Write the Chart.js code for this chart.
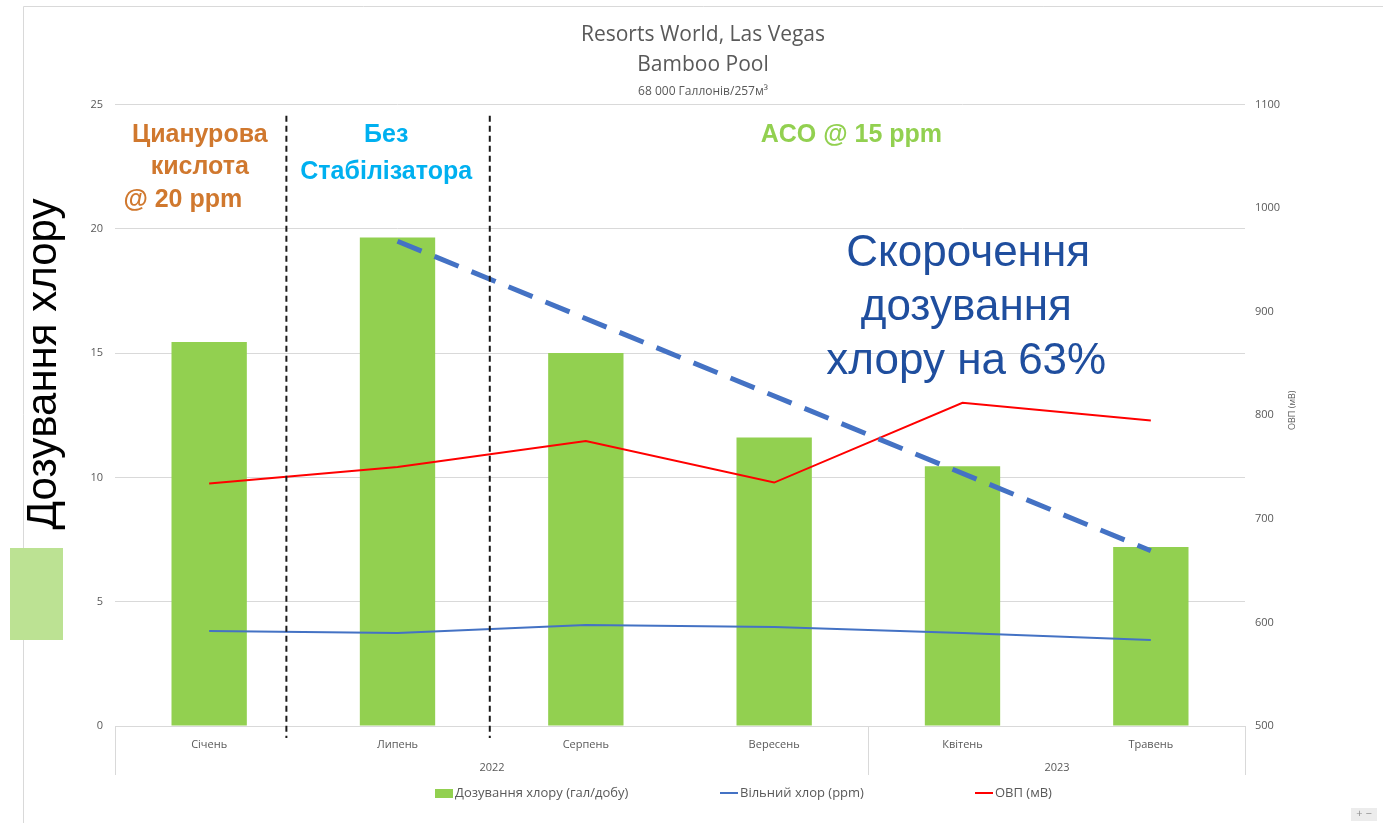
<!DOCTYPE html>
<html>
<head>
<meta charset="utf-8">
<title>Resorts World, Las Vegas - Bamboo Pool</title>
<script src="https://cdn.jsdelivr.net/npm/chart.js@4.4.1/dist/chart.umd.min.js"></script>
<style>
  html, body { margin: 0; padding: 0; background: #fff; }
  #grafik { display: block; }
</style>
</head>
<body>
<canvas id="grafik" width="1383" height="823"></canvas>
<script>
// дані
const misyatsi = ['Січень', 'Липень', 'Серпень', 'Вересень', 'Квітень', 'Травень'];
const roky = ['2022', '2023'];
const rokyMezhi = [[0, 3], [4, 5]]; // перший і останній індекс місяця для кожного року
const dozuvannya = [15.45, 19.65, 15.0, 11.6, 10.45, 7.2];
const vilnyiKhlor = [3.82, 3.74, 4.06, 3.98, 3.74, 3.46];
const ovp = [734, 750, 775, 735, 812, 795];
const trend = [null, 19.5, null, null, null, 7.05];

const SHRYFT = "'Open Sans', 'Noto Sans', sans-serif";
const ARIAL = "'Liberation Sans', Arial, sans-serif";
const SIRYI = '#595959';

// підписи на полі графіка: x в індексах категорій, y в одиницях лівої осі
const pidpysy = [
  { tekst: 'Цианурова', x: -0.05, y: 23.75, kolir: '#D0782E', font: 'bold 25px ' + ARIAL },
  { tekst: 'кислота', x: -0.05, y: 22.5, kolir: '#D0782E', font: 'bold 25px ' + ARIAL },
  { tekst: '@ 20 ppm', x: -0.14, y: 21.15, kolir: '#D0782E', font: 'bold 25px ' + ARIAL },
  { tekst: 'Без', x: 0.94, y: 23.75, kolir: '#00B0F0', font: 'bold 25px ' + ARIAL },
  { tekst: 'Стабілізатора', x: 0.94, y: 22.27, kolir: '#00B0F0', font: 'bold 25px ' + ARIAL },
  { tekst: 'ACO @ 15 ppm', x: 3.41, y: 23.75, kolir: '#92D050', font: 'bold 25px ' + ARIAL },
  { tekst: 'Скорочення', x: 4.03, y: 19.0, kolir: '#1F4E9E', font: '44px ' + ARIAL },
  { tekst: 'дозування', x: 4.02, y: 16.8, kolir: '#1F4E9E', font: '44px ' + ARIAL },
  { tekst: 'хлору на 63%', x: 4.02, y: 14.63, kolir: '#1F4E9E', font: '44px ' + ARIAL }
];
const rozdilnyky = [0.41, 1.49];

const legenda = [
  { tekst: 'Дозування хлору (гал/добу)', kolir: '#92D050', typ: 'box', x: 435 },
  { tekst: 'Вільний хлор (ppm)', kolir: '#4472C4', typ: 'line', x: 720 },
  { tekst: 'ОВП (мВ)', kolir: '#FF0000', typ: 'line', x: 975 }
];

const dekor = {
  id: 'dekor',
  beforeDraw(chart) {
    const ctx = chart.ctx;
    ctx.save();
    ctx.strokeStyle = '#D9D9D9';
    ctx.lineWidth = 1;
    ctx.beginPath();
    ctx.moveTo(23.5, chart.height);
    ctx.lineTo(23.5, 6.5);
    ctx.lineTo(chart.width, 6.5);
    ctx.stroke();
    ctx.restore();
  },
  afterDraw(chart) {
    const ctx = chart.ctx;
    const xs = chart.scales.x, ys = chart.scales.y;
    const area = chart.chartArea;
    ctx.save();

    // роки під місяцями
    ctx.strokeStyle = '#D9D9D9';
    ctx.lineWidth = 1;
    ctx.fillStyle = SIRYI;
    ctx.font = '11px ' + SHRYFT;
    ctx.textAlign = 'center';
    ctx.textBaseline = 'middle';
    const niz = area.bottom + 49;
    roky.forEach((rik, i) => {
      const x0 = Math.round(xs.getPixelForValue(rokyMezhi[i][0] - 0.5)) + 0.5;
      const x1 = Math.round(xs.getPixelForValue(rokyMezhi[i][1] + 0.5)) + 0.5;
      ctx.beginPath();
      ctx.moveTo(x0, area.bottom); ctx.lineTo(x0, niz);
      ctx.moveTo(x1, area.bottom); ctx.lineTo(x1, niz);
      ctx.stroke();
      ctx.fillText(rik, (x0 + x1) / 2, area.bottom + 42);
    });

    // пунктирні розділювачі періодів
    ctx.strokeStyle = '#1A1A1A';
    ctx.lineWidth = 2;
    ctx.setLineDash([6, 4]);
    rozdilnyky.forEach(v => {
      const x = xs.getPixelForValue(v);
      ctx.beginPath();
      ctx.moveTo(x, ys.getPixelForValue(24.55));
      ctx.lineTo(x, area.bottom + 12);
      ctx.stroke();
    });
    ctx.setLineDash([]);

    // підписи
    pidpysy.forEach(p => {
      ctx.font = p.font;
      ctx.fillStyle = p.kolir;
      ctx.fillText(p.tekst, xs.getPixelForValue(p.x), ys.getPixelForValue(p.y));
    });

    // назви осей
    ctx.save();
    ctx.translate(44, 364);
    ctx.rotate(-Math.PI / 2);
    ctx.font = '42px ' + ARIAL;
    ctx.fillStyle = '#000';
    ctx.fillText('Дозування хлору', 0, 0);
    ctx.restore();

    ctx.fillStyle = '#BCE293';
    ctx.fillRect(10, 548, 53, 92);

    ctx.save();
    ctx.translate(1292, (area.top + area.bottom) / 2 - 5);
    ctx.rotate(-Math.PI / 2);
    ctx.font = '9px ' + SHRYFT;
    ctx.fillStyle = SIRYI;
    ctx.fillText('ОВП (мВ)', 0, 0);
    ctx.restore();

    // легенда
    ctx.font = '13px ' + SHRYFT;
    ctx.textAlign = 'left';
    const ly = 793;
    legenda.forEach(l => {
      if (l.typ === 'box') {
        ctx.fillStyle = l.kolir;
        ctx.fillRect(l.x, ly - 4, 18, 9);
      } else {
        ctx.strokeStyle = l.kolir;
        ctx.lineWidth = 2;
        ctx.beginPath();
        ctx.moveTo(l.x, ly); ctx.lineTo(l.x + 18, ly);
        ctx.stroke();
      }
      ctx.fillStyle = SIRYI;
      ctx.fillText(l.tekst, l.x + 20, ly);
    });

    // кнопки масштабу в куті
    ctx.fillStyle = '#ECECEC';
    ctx.fillRect(1351, 808, 26, 13);
    ctx.fillStyle = '#8C8C8C';
    ctx.font = '11px ' + SHRYFT;
    ctx.textAlign = 'center';
    ctx.fillText('+ −', 1364, 814);

    ctx.restore();
  }
};

new Chart(document.getElementById('grafik'), {
  type: 'bar',
  data: {
    labels: misyatsi,
    datasets: [
      {
        type: 'bar', label: 'Дозування хлору (гал/добу)', data: dozuvannya, yAxisID: 'y',
        backgroundColor: '#92D050', barPercentage: 0.4, categoryPercentage: 1, order: 4
      },
      {
        type: 'line', label: 'Вільний хлор (ppm)', data: vilnyiKhlor, yAxisID: 'y',
        borderColor: '#4472C4', borderWidth: 2, pointRadius: 0, tension: 0, order: 3
      },
      {
        type: 'line', label: 'ОВП (мВ)', data: ovp, yAxisID: 'y1',
        borderColor: '#FF0000', borderWidth: 2, pointRadius: 0, tension: 0, order: 2
      },
      {
        type: 'line', label: 'тренд', data: trend, yAxisID: 'y', spanGaps: true,
        borderColor: '#4472C4', borderWidth: 5, borderDash: [26, 14], pointRadius: 0, order: 1
      }
    ]
  },
  options: {
    responsive: false,
    animation: false,
    layout: { padding: { left: 23, right: 0, top: 0, bottom: 47 } },
    plugins: {
      legend: { display: false },
      tooltip: { enabled: false },
      title: {
        display: true,
        text: ['Resorts World, Las Vegas', 'Bamboo Pool'],
        color: SIRYI,
        font: { family: SHRYFT, size: 21, weight: 'normal', lineHeight: 1.43 },
        padding: { top: 20, bottom: 0 }
      },
      subtitle: {
        display: true,
        text: '68 000 Галлонів/257м³',
        color: SIRYI,
        font: { family: SHRYFT, size: 12 },
        padding: { top: 4, bottom: 6 }
      }
    },
    scales: {
      x: {
        grid: { display: false },
        border: { display: true, color: '#D9D9D9' },
        ticks: { color: SIRYI, font: { family: SHRYFT, size: 11 }, padding: 4, maxRotation: 0 },
        afterFit(s) { s.height = 50; }
      },
      y: {
        position: 'left', min: 0, max: 25,
        ticks: { stepSize: 5, color: SIRYI, font: { family: SHRYFT, size: 11 }, padding: 12 },
        grid: { color: '#D9D9D9', drawTicks: false },
        border: { display: false },
        afterFit(s) { s.width = 92; }
      },
      y1: {
        position: 'right', min: 500, max: 1100,
        ticks: {
          stepSize: 100, color: SIRYI, font: { family: SHRYFT, size: 11 }, padding: 10,
          callback: v => String(v)
        },
        grid: { display: false, drawTicks: false },
        border: { display: false },
        afterFit(s) { s.width = 138; }
      }
    }
  },
  plugins: [dekor]
});
</script>
</body>
</html>
